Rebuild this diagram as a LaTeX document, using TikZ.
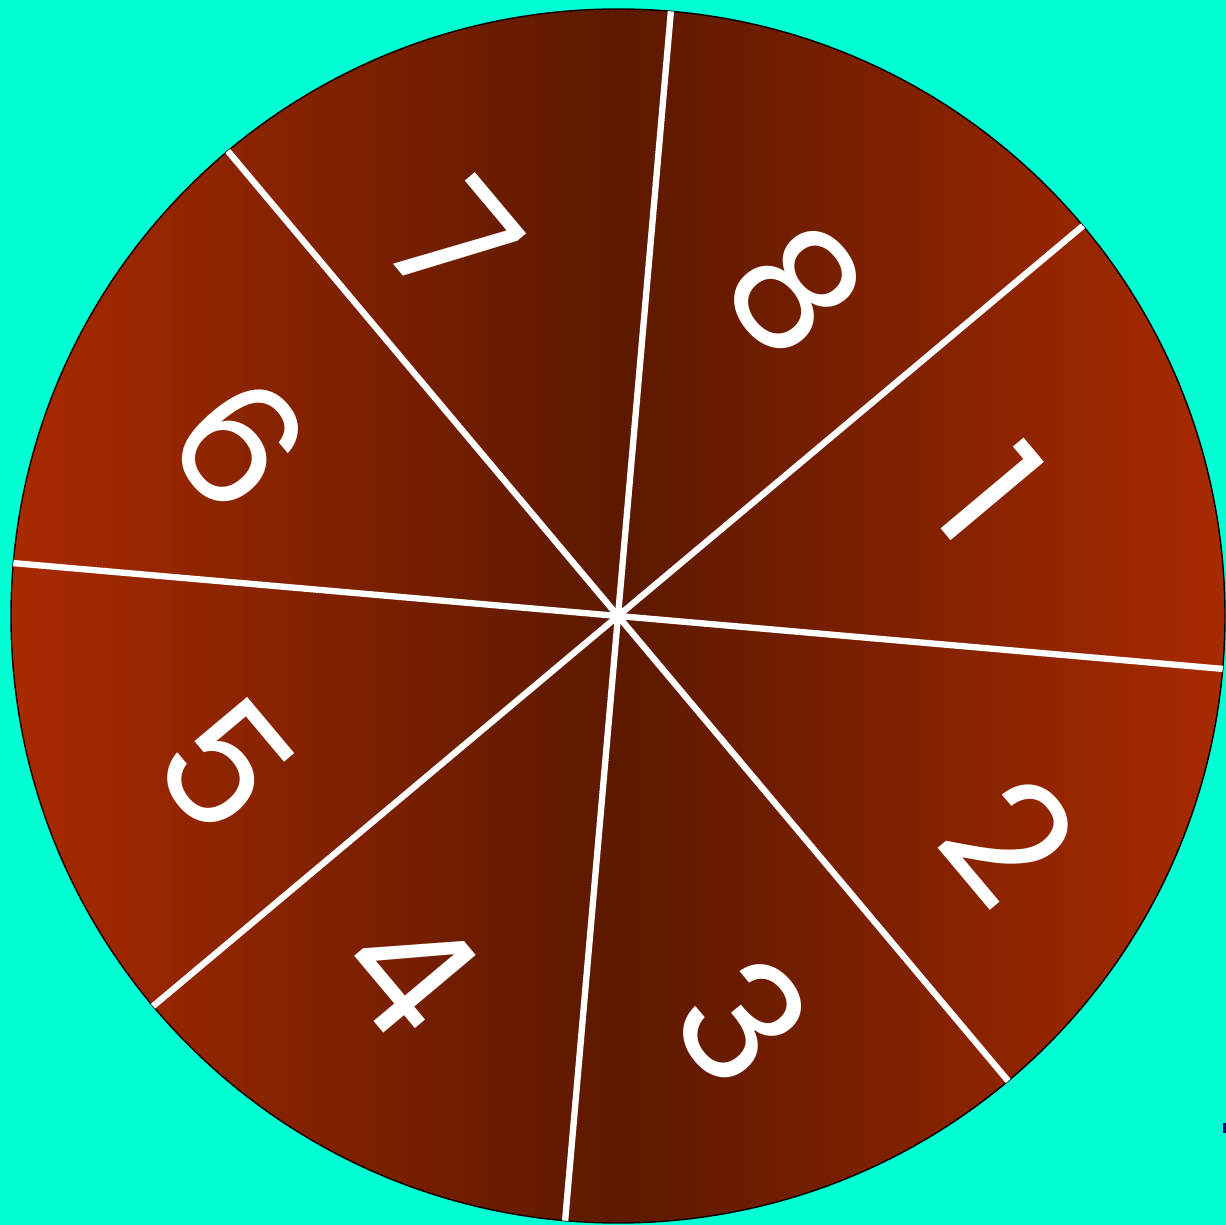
\documentclass[tikz,border=0pt]{standalone}
\usepackage{fontspec}
\setmainfont{Poppins}
\definecolor{bg}{HTML}{00FFD2}
\definecolor{rimc}{HTML}{A82A00}
\definecolor{midc}{HTML}{5C1900}
\definecolor{markc}{HTML}{0A0A80}
\pgfdeclarehorizontalshading{wheelshade}{100bp}{color(0bp)=(rimc); color(25bp)=(rimc); color(50bp)=(midc); color(75bp)=(rimc); color(100bp)=(rimc)}
\tikzset{
  wheel/.style={circle, draw=black, line width=0.4pt, shading=wheelshade, minimum size=12.14cm, inner sep=0pt, outer sep=0pt},
  spoke/.style={draw=white, line width=1.8pt},
  digit/.style={text=white, font=\fontsize{48}{48}\selectfont, inner sep=0pt, rotate=-50},
}
\begin{document}
\begin{tikzpicture}
\fill[bg] (0,0) rectangle (12.26,-12.25);
\useasboundingbox (0,0) rectangle (12.26,-12.25);
\node[wheel] (w) at (6.18,-6.16) {};
\coordinate (c) at (w.center);
\foreach \a in {85,40,-5,-50,-95,-140,175,130}{
  \draw[spoke] (c) -- (w.\a);
}
\node[digit] (n1) at (9.91,-4.93) {1};
\node[digit] (n2) at (10.10,-8.40) {2};
\node[digit] (n3) at (7.43,-10.21) {3};
\node[digit] (n4) at (4.10,-9.70) {4};
\node[digit] (n5) at (2.25,-7.66) {5};
\node[digit] (n6) at (2.39,-4.44) {6};
\node[digit] (n7) at (4.55,-2.43) {7};
\node[digit] (n8) at (7.96,-2.90) {8};
\fill[markc] (12.23,-11.23) rectangle (12.26,-11.33);
\end{tikzpicture}
\end{document}
